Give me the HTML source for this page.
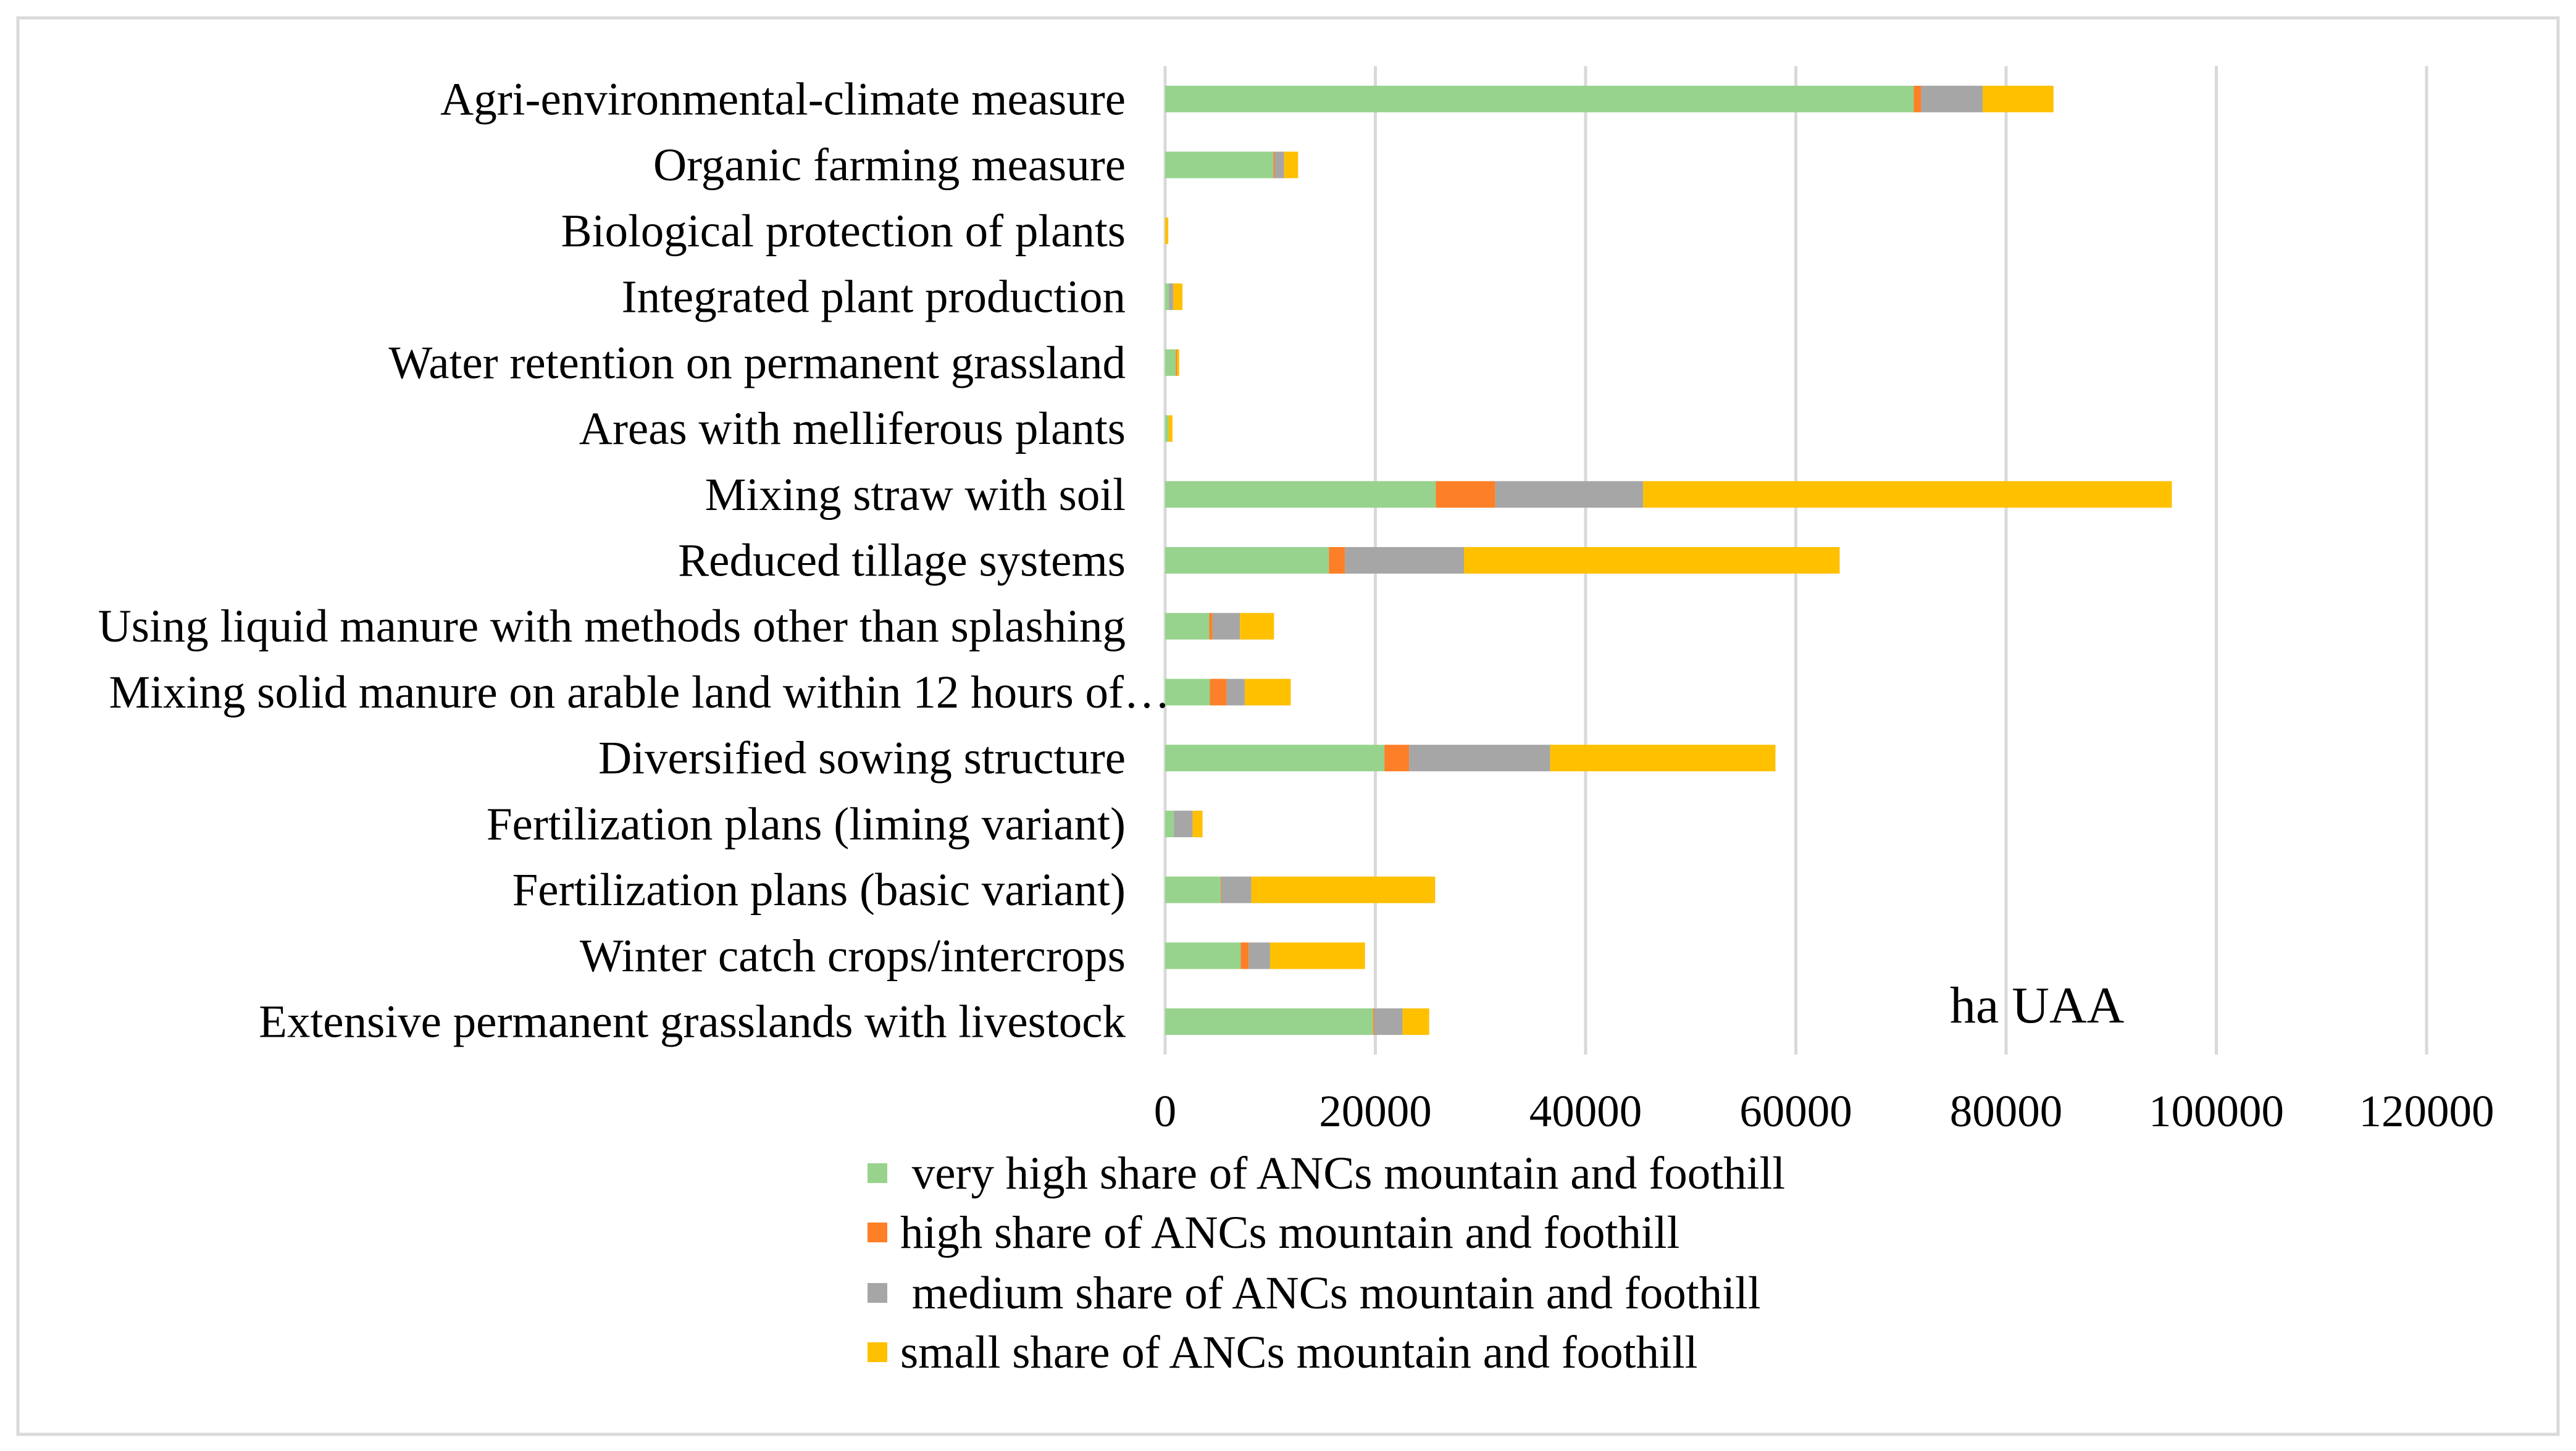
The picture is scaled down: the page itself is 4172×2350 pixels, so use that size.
<!DOCTYPE html>
<html><head><meta charset="utf-8"><style>
html,body{margin:0;padding:0;background:#fff;}
svg{display:block;font-family:"Liberation Serif",serif;}
</style></head><body>
<svg id="chart" width="4172" height="2350" viewBox="0 0 4172 2350" xmlns="http://www.w3.org/2000/svg">
<rect x="29" y="29" width="4114" height="2294" fill="#fff" stroke="#d9d9d9" stroke-width="5"/>
<g id="grid"></g><g id="bars"></g><g id="labels"></g><g id="ticks"></g>
<text x="3158" y="1656" font-size="84" fill="#000">ha UAA</text>
<g id="legend"></g>
</svg>
<script>
const categories = ["Agri-environmental-climate measure","Organic farming measure","Biological protection of plants","Integrated plant production","Water retention on permanent grassland","Areas with melliferous plants","Mixing straw with soil","Reduced tillage systems","Using liquid manure with methods other than splashing","Mixing solid manure on arable land within 12 hours of…","Diversified sowing structure","Fertilization plans (liming variant)","Fertilization plans (basic variant)","Winter catch crops/intercrops","Extensive permanent grasslands with livestock"];
const veryHigh = [71220,10300,0,380,1020,320,25750,15580,4200,4260,20860,830,5280,7190,19780];
const high     = [700,130,0,0,120,0,5660,1530,310,1590,2350,0,60,760,120];
const medium   = [5850,890,0,380,0,0,14060,11320,2610,1720,13420,1780,2860,2030,2680];
const small    = [6740,1330,300,890,200,380,50300,35740,3240,4380,21430,950,17490,9030,2540];
const tickValues = [0,20000,40000,60000,80000,100000,120000];
const seriesNames = [" very high share of ANCs mountain and foothill","high share of ANCs mountain and foothill"," medium share of ANCs mountain and foothill","small share of ANCs mountain and foothill"];
const seriesColors = ["#97d38c","#fd7f27","#a6a6a6","#ffc000"];

const NS="http://www.w3.org/2000/svg";
const x0=1887, xPerUnit=(3930-1887)/120000;
const xScale=v=>x0+v*xPerUnit;
const rowTop=107, rowH=(1708-107)/categories.length, barH=43;
const yCenter=i=>rowTop+rowH*(i+0.5);
function mk(tag,attrs,parent){const e=document.createElementNS(NS,tag);for(const k in attrs)e.setAttribute(k,attrs[k]);parent.appendChild(e);return e;}

const grid=document.getElementById('grid');
tickValues.forEach((t,i)=>{
  const l=mk('line',{x1:xScale(t),x2:xScale(t),y1:107,y2:1708,stroke:'#d9d9d9','stroke-width':5},grid);
  
  
  const tx=mk('text',{x:xScale(t),y:1824,'font-size':73,'text-anchor':'middle',fill:'#000'},document.getElementById('ticks'));
  tx.textContent=String(t);
  
  
});

const series=[veryHigh,high,medium,small];
const bars=document.getElementById('bars');
categories.forEach((c,i)=>{
  let acc=0;
  series.forEach((s,k)=>{
    const v=s[i];
    if(v>0){
      const r=mk('rect',{x:xScale(acc),y:yCenter(i)-barH/2,width:xScale(acc+v)-xScale(acc),height:barH,fill:seriesColors[k]},bars);
      
      
    }
    acc+=v;
  });
  const lx = c.endsWith('…') ? 1895 : 1823;
  const lt=mk('text',{x:lx,y:yCenter(i)+25,'font-size':75,'text-anchor':'end',fill:'#000'},document.getElementById('labels'));
  lt.textContent=c;
  
  
});

const legend=document.getElementById('legend');
const legY=[1900,1996,2094,2190];
seriesNames.forEach((n,k)=>{
  const g=mk('g',{},legend);
  
  
  const sw=mk('rect',{x:1405,y:legY[k]-16,width:32,height:32,fill:seriesColors[k]},g);
  
  
  const t=mk('text',{x:1458,y:legY[k]+25,'font-size':75,fill:'#000','xml:space':'preserve'},g);
  t.setAttribute('style','white-space:pre');
  t.textContent=n;
  
  
});
</script>
</body></html>
